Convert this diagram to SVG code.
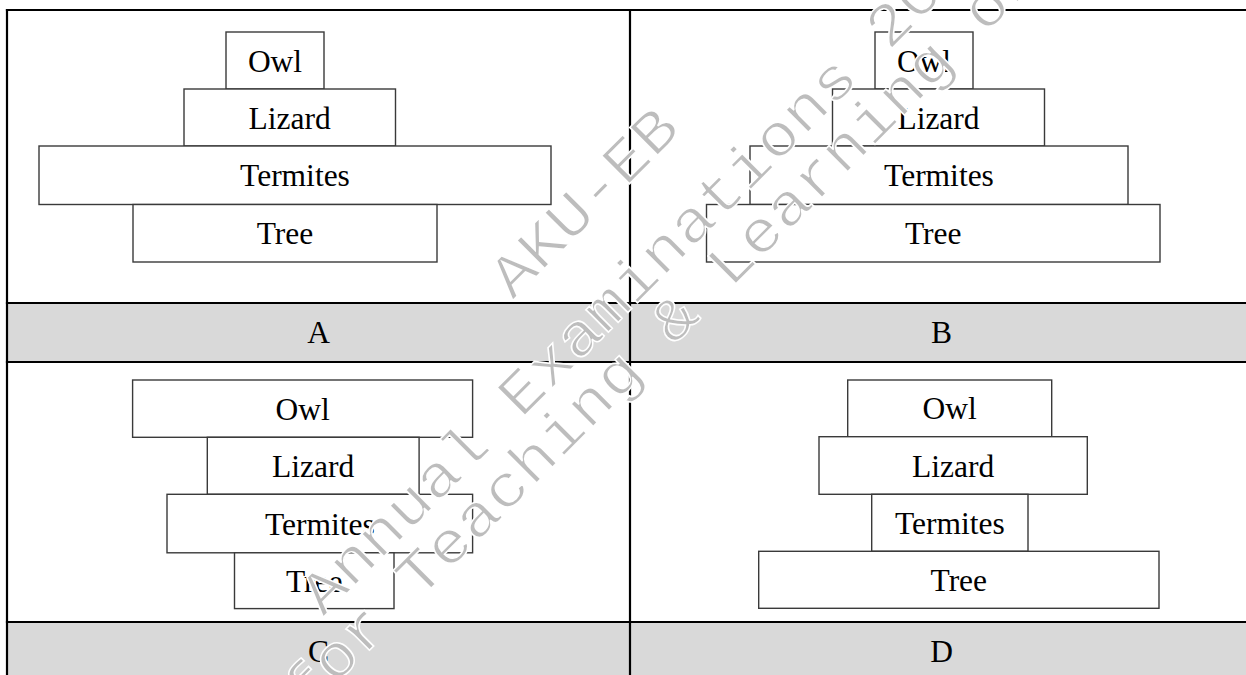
<svg xmlns="http://www.w3.org/2000/svg" width="1246" height="675" viewBox="0 0 1246 675">
  <style>
    .bg { fill: #ffffff; }
    .band { fill: #d9d9d9; }
    .rule { stroke: #000000; stroke-width: 2.2; fill: none; }
    .box { fill: #ffffff; stroke: #3a3a3a; stroke-width: 1.4; }
    .lbl { font-family: "Liberation Serif", "Times New Roman", serif; font-size: 31.5px; fill: #000000; text-anchor: middle; }
    .wm { font-family: "Liberation Mono", "Courier New", monospace; font-size: 60px; fill: #bdbdbd; stroke: #ffffff; stroke-width: 1.5; text-anchor: middle; }
  </style>

  <rect class="bg" x="0" y="0" width="1246" height="675"/>

  <!-- table: shaded caption rows and ruling -->
  <g id="table">
    <rect class="band" x="7" y="303" width="1246" height="59"/>
    <rect class="band" x="7" y="622" width="1246" height="60"/>
    <line class="rule" x1="5.9" y1="10" x2="1246" y2="10"/>
    <line class="rule" x1="5.9" y1="303" x2="1246" y2="303"/>
    <line class="rule" x1="5.9" y1="362" x2="1246" y2="362"/>
    <line class="rule" x1="5.9" y1="622" x2="1246" y2="622"/>
    <line class="rule" x1="7" y1="8.9" x2="7" y2="675"/>
    <line class="rule" x1="630" y1="8.9" x2="630" y2="675"/>
  </g>

  <!-- option A -->
  <g id="panel-a">
    <g id="a-owl"><rect class="box" x="226" y="32" width="98" height="57"/><text class="lbl" x="275" y="71.5">Owl</text></g>
    <g id="a-lizard"><rect class="box" x="184" y="89" width="211.5" height="57"/><text class="lbl" x="289.7" y="128.5">Lizard</text></g>
    <g id="a-termites"><rect class="box" x="39" y="146" width="512" height="58.5"/><text class="lbl" x="295" y="186.3">Termites</text></g>
    <g id="a-tree"><rect class="box" x="133" y="204.5" width="304" height="57.5"/><text class="lbl" x="285" y="244.3">Tree</text></g>
  </g>

  <!-- option B -->
  <g id="panel-b">
    <g id="b-owl"><rect class="box" x="875" y="32" width="98" height="57"/><text class="lbl" x="924" y="71.5">Owl</text></g>
    <g id="b-lizard"><rect class="box" x="832.5" y="89" width="212" height="57"/><text class="lbl" x="938.5" y="128.5">Lizard</text></g>
    <g id="b-termites"><rect class="box" x="750" y="146" width="378" height="58.5"/><text class="lbl" x="939" y="186.3">Termites</text></g>
    <g id="b-tree"><rect class="box" x="706.5" y="204.5" width="453.5" height="57.5"/><text class="lbl" x="933.2" y="244.3">Tree</text></g>
  </g>

  <!-- option C -->
  <g id="panel-c">
    <g id="c-owl"><rect class="box" x="132.6" y="380" width="340" height="57.3"/><text class="lbl" x="302.6" y="419.6">Owl</text></g>
    <g id="c-lizard"><rect class="box" x="207.3" y="437.3" width="211.8" height="57"/><text class="lbl" x="313.2" y="476.8">Lizard</text></g>
    <g id="c-termites"><rect class="box" x="167" y="494.3" width="305.6" height="58.5"/><text class="lbl" x="319.8" y="534.5">Termites</text></g>
    <g id="c-tree"><rect class="box" x="234.5" y="552.8" width="159.5" height="55.8"/><text class="lbl" x="314.2" y="591.7">Tree</text></g>
  </g>

  <!-- option D -->
  <g id="panel-d">
    <g id="d-owl"><rect class="box" x="847.7" y="380" width="204" height="56.7"/><text class="lbl" x="949.7" y="419.4">Owl</text></g>
    <g id="d-lizard"><rect class="box" x="819" y="436.7" width="268.3" height="57.6"/><text class="lbl" x="953.1" y="476.5">Lizard</text></g>
    <g id="d-termites"><rect class="box" x="871.7" y="494.3" width="156.3" height="57"/><text class="lbl" x="949.8" y="533.8">Termites</text></g>
    <g id="d-tree"><rect class="box" x="758.7" y="551.3" width="400.3" height="57"/><text class="lbl" x="958.8" y="590.8">Tree</text></g>
  </g>

  <!-- caption letters -->
  <g id="captions">
    <text class="lbl" x="318.5" y="343.3">A</text>
    <text class="lbl" x="941.5" y="343.3">B</text>
    <text class="lbl" x="318.5" y="661.7">C</text>
    <text class="lbl" x="941.5" y="661.7">D</text>
  </g>

  <!-- diagonal watermark -->
  <g id="watermark" transform="rotate(-45)">
    <text class="wm" x="270" y="575" textLength="240" lengthAdjust="spacingAndGlyphs">AKU-EB</text>
    <text class="wm" x="272" y="665" textLength="960" lengthAdjust="spacingAndGlyphs">Annual Examinations 2024</text>
    <text class="wm" x="272" y="721" textLength="1120" lengthAdjust="spacingAndGlyphs">for Teaching &amp; Learning only</text>
  </g>
</svg>
